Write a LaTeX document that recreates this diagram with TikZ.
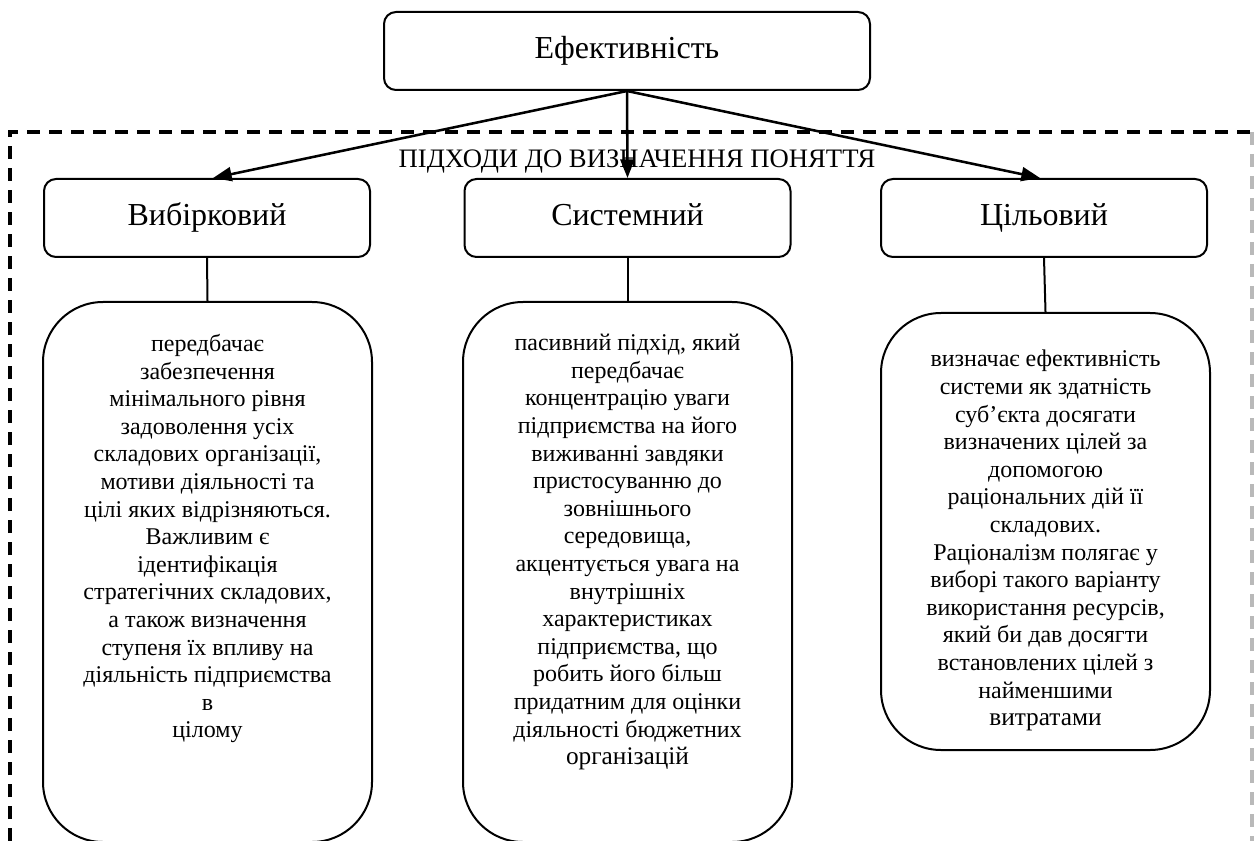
\documentclass[tikz,border=0pt]{standalone}
\usepackage{fontspec}
\setmainfont{Liberation Serif}
\usetikzlibrary{arrows.meta,calc}
\begin{document}
\begin{tikzpicture}[x=0.75pt,y=-0.75pt,
  titlebox/.style={draw,line width=1.5pt,rounded corners=9pt,inner sep=0pt,
    text height=17pt,text depth=5pt,
    font=\fontsize{24}{28}\selectfont},
  bigbox/.style={draw,line width=1.5pt,rounded corners=45pt,inner sep=0pt,
    minimum width=246.75pt},
  bodytext/.style={anchor=north,inner sep=0pt,align=center,
    font=\fontsize{18}{20.7}\selectfont},
  arr/.style={line width=1.9pt,-{Triangle[length=14pt,width=10.5pt]}},
  link/.style={line width=1.5pt},
  frame/.style={line width=2.3pt,dash pattern=on 9.5pt off 7pt}]
\useasboundingbox (0,0) rectangle (1255,841);
% dashed frame
\draw[frame] (10,841) -- (10,132) -- (1252,132);
\draw[frame,gray!55] (1252,132) -- (1252,841);
% top
\node[titlebox,minimum width=364.5pt,minimum height=58.5pt] (top) at (627,51) {Ефективність};
\node[anchor=base,inner sep=0pt,font=\fontsize{20}{24}\selectfont] (lbl) at (637,168) {ПІДХОДИ ДО ВИЗНАЧЕННЯ ПОНЯТТЯ};
% second level
\node[titlebox,minimum width=244.5pt,minimum height=58.5pt] (b1) at (207,218) {Вибірковий};
\node[titlebox,minimum width=244.5pt,minimum height=58.5pt] (b2) at (627.5,218) {Системний};
\node[titlebox,minimum width=244.5pt,minimum height=58.5pt] (b3) at (1044,218) {Цільовий};
% big boxes
\node[bigbox,minimum height=405pt] (d1) at (207.5,572) {};
\node[bigbox,minimum height=405pt] (d2) at (627.5,572) {};
\node[bigbox,minimum height=327.75pt] (d3) at (1045.5,531.5) {};
% texts
\node[bodytext] (t1) at (207.5,334) {передбачає\\забезпечення\\мінімального рівня\\задоволення усіх\\складових організації,\\мотиви діяльності та\\цілі яких відрізняються.\\Важливим є\\ідентифікація\\стратегічних складових,\\а також визначення\\ступеня їх впливу на\\діяльність підприємства\\в\\цілому};
\node[bodytext] (t2) at (627.5,334) {пасивний підхід, який\\передбачає\\концентрацію уваги\\підприємства на його\\виживанні завдяки\\пристосуванню до\\зовнішнього\\середовища,\\акцентується увага на\\внутрішніх\\характеристиках\\підприємства, що\\робить його більш\\придатним для оцінки\\діяльності бюджетних\\{\fontsize{19}{20.7}\selectfont організацій}};
\node[bodytext] (t3) at (1045.5,350) {визначає ефективність\\системи як здатність\\суб’єкта досягати\\визначених цілей за\\допомогою\\раціональних дій її\\складових.\\Раціоналізм полягає у\\виборі такого варіанту\\використання ресурсів,\\який би дав досягти\\встановлених цілей з\\найменшими\\{\fontsize{19}{20.7}\selectfont витратами}};
% connectors
\draw[arr] (top.south) -- ($(b1.north)+(6,0)$);
\draw[arr] (top.south) -- (b2.north);
\draw[arr] (top.south) -- ($(b3.north)+(-4,0)$);
\draw[link] (b1.south) -- (d1.north);
\draw[link] (b2.south) -- (d2.north);
\draw[link] (b3.south) -- (d3.north);
\end{tikzpicture}
\end{document}
